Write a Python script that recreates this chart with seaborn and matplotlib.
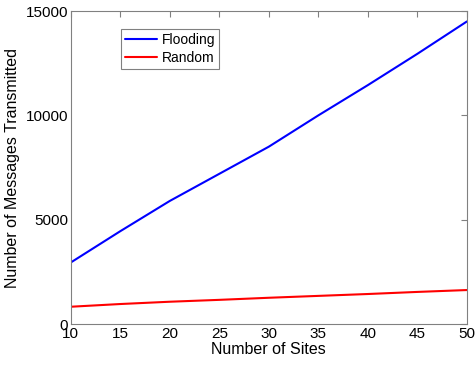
import numpy as np
import seaborn as sns
import matplotlib.pyplot as plt
import pandas as pd

# valori
sites = [10, 15, 20, 25, 30, 35, 40, 45, 50]
flooding = [2950, 4450, 5900, 7200, 8500, 10000, 11450, 12950, 14500]
random_ = [830, 960, 1070, 1160, 1260, 1350, 1440, 1540, 1630]

data = pd.DataFrame({
    "Sites": sites * 2,
    "Messages": flooding + random_,
    "Method": ["Flooding"] * len(sites) + ["Random"] * len(sites),
})

sns.set_style("white")
plt.rcParams["font.family"] = ["Liberation Sans", "DejaVu Sans"]
plt.rcParams["text.color"] = "black"
plt.rcParams["axes.labelcolor"] = "black"
plt.rcParams["xtick.color"] = "black"
plt.rcParams["ytick.color"] = "black"

fig = plt.figure(figsize=(4.75, 3.67), dpi=100)
ax = fig.add_axes([0.149, 0.117, 0.834, 0.853])

sns.lineplot(data=data, x="Sites", y="Messages", hue="Method",
             palette={"Flooding": "#0000ff", "Random": "#ff0000"},
             linewidth=1.5, ax=ax)

ax.set_xlim(10, 50)
ax.set_ylim(0, 15000)
ax.set_xticks(np.arange(10, 51, 5))
ax.set_yticks([0, 5000, 10000, 15000])
ax.tick_params(direction="in", top=True, right=True, length=4,
               labelsize=11, color="#808080", labelcolor="black", pad=2)
for s in ax.spines.values():
    s.set_color("#808080")
    s.set_linewidth(0.8)

ax.set_xlabel("Number of Sites", fontsize=11.5, labelpad=1)
ax.set_ylabel("Number of Messages Transmitted", fontsize=11.5, labelpad=4)

leg = ax.legend(loc="upper left", bbox_to_anchor=(0.11, 0.965), fontsize=10,
                fancybox=False, framealpha=1, edgecolor="#808080",
                handlelength=2.3, handletextpad=0.3, borderpad=0.3,
                labelspacing=0.3)
leg.get_frame().set_linewidth(0.8)
for t in leg.get_texts():
    t.set_color("black")

fig.savefig("out.png", dpi=100)
